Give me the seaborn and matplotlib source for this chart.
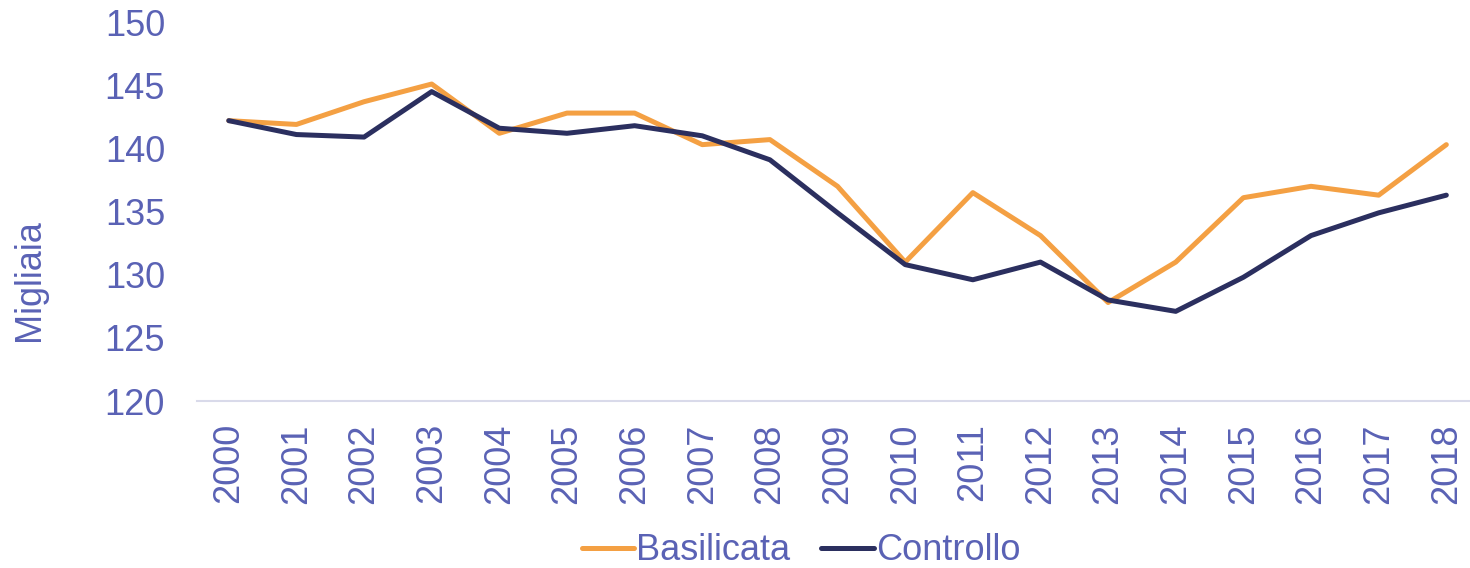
import numpy as np
import pandas as pd
import matplotlib
matplotlib.use('Agg')
import matplotlib.pyplot as plt
import seaborn as sns

#values (thousands)
years = list(range(2000, 2019))
basilicata = [142.2, 141.9, 143.7, 145.1, 141.2, 142.8, 142.8, 140.3, 140.7, 137.0,
              131.0, 136.5, 133.1, 127.8, 131.0, 136.1, 137.0, 136.3, 140.3]
controllo = [142.2, 141.1, 140.9, 144.5, 141.6, 141.2, 141.8, 141.0, 139.1, 134.9,
             130.8, 129.6, 131.0, 128.0, 127.1, 129.8, 133.1, 134.9, 136.3]
series_names = ['Basilicata', 'Controllo']
yticks = [120, 125, 130, 135, 140, 145, 150]

df = pd.DataFrame({'anno': years * 2,
                   'valore': basilicata + controllo,
                   'serie': [series_names[0]] * len(years) + [series_names[1]] * len(years)})

text_col = '#5A62B5'
palette = {'Basilicata': '#F4A043', 'Controllo': '#2B2F5F'}

sns.set_style('white')
plt.rcParams['font.family'] = ['Liberation Sans', 'DejaVu Sans']

fig = plt.figure(figsize=(14.7, 5.68), dpi=100)
ax = fig.add_axes([0.134, 0.294, 0.866, 0.667])

sns.lineplot(data=df, x='anno', y='valore', hue='serie', palette=palette,
             linewidth=3.6, ax=ax, legend=False)

ax.set_xlim(1999.53, 2018.35)
ax.set_ylim(120, 150)
ax.set_xticks(years)
ax.set_xticklabels([str(y) for y in years], rotation=90, fontsize=26, color=text_col)
ax.set_yticks(yticks)
ax.set_yticklabels([str(v) for v in yticks], fontsize=26, color=text_col)
ax.tick_params(axis='both', length=0)
ax.tick_params(axis='y', pad=23)
ax.tick_params(axis='x', pad=16)

for s in ['top', 'right', 'left']:
    ax.spines[s].set_visible(False)
ax.spines['bottom'].set_color('#D9DAEA')
ax.spines['bottom'].set_linewidth(1.5)

ax.set_xlabel('')
ax.set_ylabel('Migliaia', fontsize=26, color=text_col)
#label sits lower than the axis centre in the reference
ax.yaxis.set_label_coords(-0.118, 0.32)

handles = [plt.Line2D([], [], color=palette[n], linewidth=3.6) for n in series_names]
leg = fig.legend(handles, series_names, loc='center', bbox_to_anchor=(0.545, 0.03),
                 ncol=2, frameon=False, fontsize=26, handlelength=1.45,
                 handletextpad=0.06, columnspacing=0.85)
for t in leg.get_texts():
    t.set_color(text_col)

plt.savefig('out.png', dpi=100)
